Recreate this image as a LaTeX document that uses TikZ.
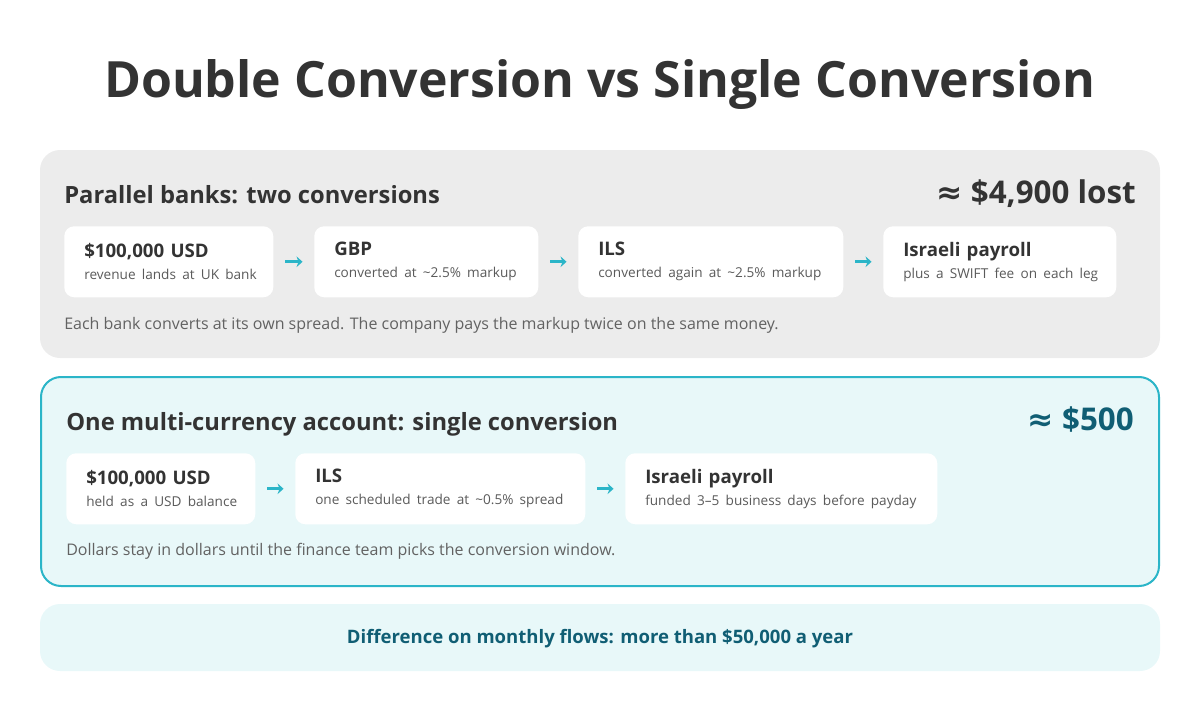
\documentclass[tikz,border=0pt]{standalone}
\usepackage{fontspec}
\setmainfont{Open Sans}
\newfontfamily\symfont{DejaVu Sans}
\usetikzlibrary{arrows.meta}

\definecolor{ink}{HTML}{333333}
\definecolor{subgrey}{HTML}{5A5A5A}
\definecolor{notegrey}{HTML}{626262}
\definecolor{panelgrey}{HTML}{ECECEC}
\definecolor{panelcyan}{HTML}{E8F8F9}
\definecolor{cyanline}{HTML}{2BB5C8}
\definecolor{deepteal}{HTML}{105E74}

\tikzset{
  stage/.style={fill=white, rounded corners=7.5pt, minimum height=53.25pt,
    inner xsep=15pt, inner ysep=0pt, align=left, anchor=north west,
    text=ink, font=\fontsize{14}{16.5}\selectfont},
  flow/.style={draw=cyanline, line width=2.2pt, shorten <=8.6pt, shorten >=8.6pt,
    -{Stealth[length=4.5pt,width=8pt,inset=1.5pt]}},
  heading/.style={text=ink, font=\fontsize{17.8}{22}\selectfont\bfseries, inner sep=0pt},
  amount/.style={text=ink, font=\fontsize{23.5}{27}\selectfont\bfseries, inner sep=0pt, anchor=base east},
  note/.style={text=notegrey, font=\fontsize{12}{14}\selectfont, inner sep=0pt, anchor=base west}
}
\newcommand{\topline}[1]{\makebox[\linewidth][l]{\bfseries #1}}
\newcommand{\subline}[1]{\makebox[\linewidth][l]{\color{subgrey}\fontsize{10.2}{13}\selectfont #1}}

\begin{document}
\begin{tikzpicture}[x=0.75pt, y=-0.75pt]
  \useasboundingbox (0,0) rectangle (1200,724);

  \node[text=ink, font=\fontsize{37.5}{42}\selectfont\bfseries, anchor=base, inner sep=0pt]
    (title) at (600,98) {Double Conversion vs Single Conversion};

  % parallel banks
  \fill[panelgrey, rounded corners=15pt] (40,150) rectangle (1160,358);
  \node[heading, anchor=base west] (head1) at (64,203) {Parallel banks: two conversions};
  \node[amount] (lost1) at (1136,203) {{\symfont ≈} \$4,900 lost};

  \node[stage, text width=126.75pt] (usd1) at (64,226)
    {\topline{\$100,000 USD}\\\subline{revenue lands at UK bank}};
  \node[stage, text width=138pt] (gbp) at (314,226)
    {\topline{GBP}\\\subline{converted at \textasciitilde 2.5\% markup}};
  \node[stage, text width=168.75pt] (ils1) at (578,226)
    {\topline{ILS}\\\subline{converted again at \textasciitilde 2.5\% markup}};
  \node[stage, text width=144.75pt] (pay1) at (883,226)
    {\topline{Israeli payroll}\\\subline{plus a SWIFT fee on each leg}};

  \draw[flow] (usd1) -- (gbp);
  \draw[flow] (gbp) -- (ils1);
  \draw[flow] (ils1) -- (pay1);

  \node[note] (note1) at (64,329)
    {Each bank converts at its own spread. The company pays the markup twice on the same money.};

  % multi-currency account
  \filldraw[fill=panelcyan, draw=cyanline, line width=1.5pt, rounded corners=15pt]
    (41,377) rectangle (1159,586);
  \node[heading, anchor=base west] (head2) at (66,430) {One multi-currency account: single conversion};
  \node[amount, text=deepteal] (lost2) at (1134,430) {{\symfont ≈} \$500};

  \node[stage, text width=111.75pt] (usd2) at (66,453)
    {\topline{\$100,000 USD}\\\subline{held as a USD balance}};
  \node[stage, text width=187.5pt] (ils2) at (295,453)
    {\topline{ILS}\\\subline{one scheduled trade at \textasciitilde 0.5\% spread}};
  \node[stage, text width=204pt] (pay2) at (625,453)
    {\topline{Israeli payroll}\\\subline{funded 3–5 business days before payday}};

  \draw[flow] (usd2) -- (ils2);
  \draw[flow] (ils2) -- (pay2);

  \node[note] (note2) at (66,555)
    {Dollars stay in dollars until the finance team picks the conversion window.};

  % yearly difference
  \fill[panelcyan, rounded corners=15pt] (40,604) rectangle (1160,671);
  \node[text=deepteal, font=\fontsize{13.9}{16}\selectfont\bfseries, anchor=base, inner sep=0pt]
    (diff) at (600,643) {Difference on monthly flows: more than \$50,000 a year};
\end{tikzpicture}
\end{document}
